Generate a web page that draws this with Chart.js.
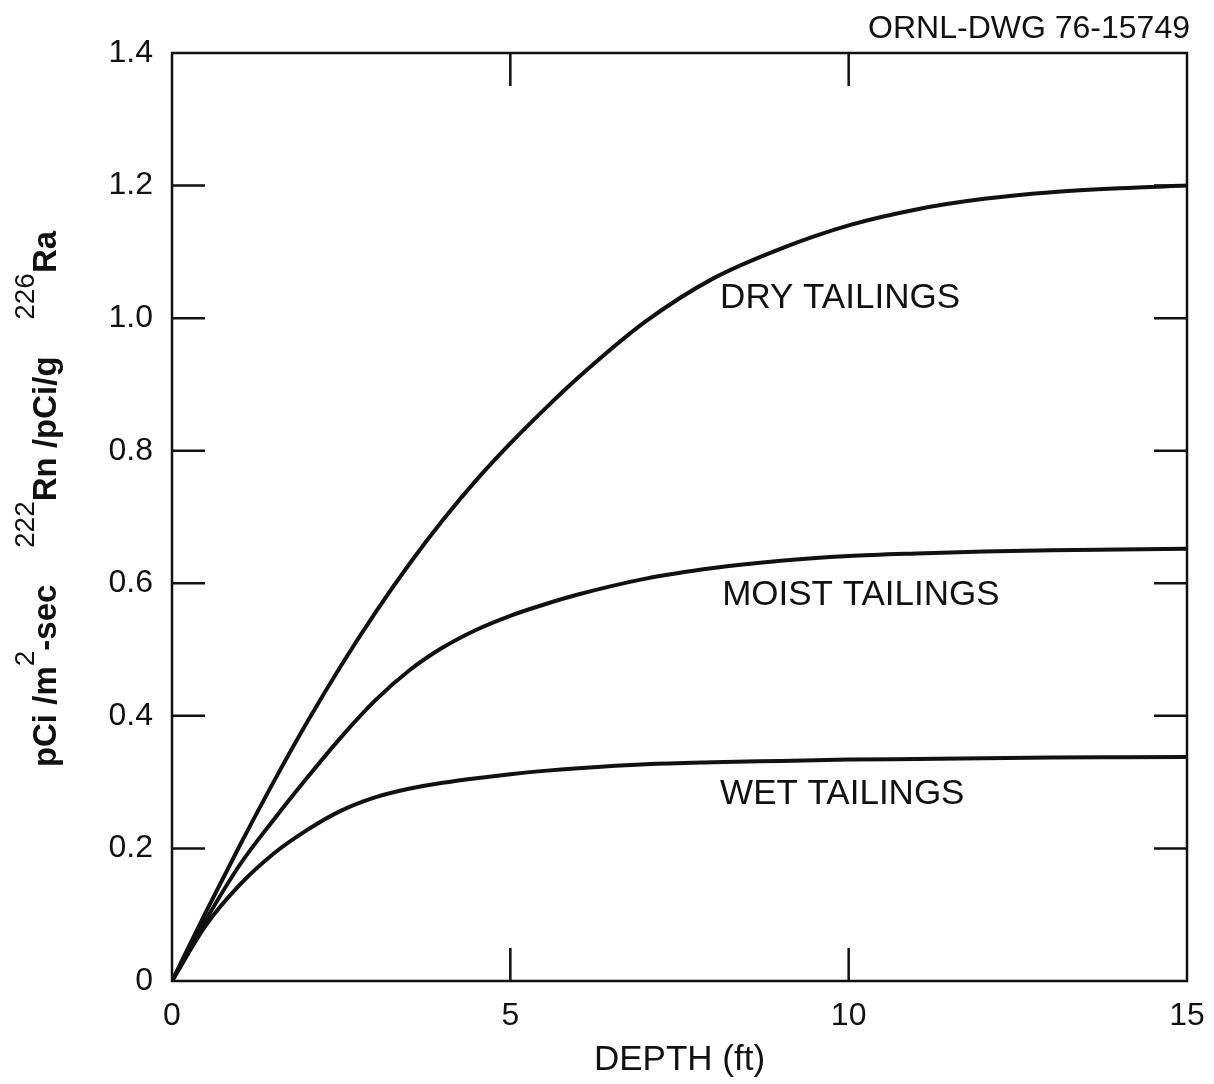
<!DOCTYPE html>
<html>
<head>
<meta charset="utf-8">
<script src="https://cdn.jsdelivr.net/npm/chart.js@4"></script>
<style>
  html, body { margin: 0; padding: 0; background: #fff; }
  #wrap { width: 1214px; height: 1084px; }
</style>
</head>
<body>
<div id="wrap"><canvas id="radonChart" width="1214" height="1084"></canvas></div>
<script>
// Depth below surface (ft)
const depth = [0, 0.5, 1, 1.5, 2, 2.5, 3, 3.5, 4, 4.5, 5, 5.5, 6, 7, 8, 9, 10, 11, 12, 13, 14, 15];
// Radon flux per unit radium
const dryTailings   = [0, 0.104, 0.204, 0.300, 0.391, 0.476, 0.555, 0.628, 0.695, 0.756, 0.811, 0.862, 0.910, 0.995, 1.060, 1.105, 1.140, 1.164, 1.180, 1.190, 1.196, 1.200];
const moistTailings = [0, 0.092, 0.175, 0.243, 0.307, 0.368, 0.423, 0.468, 0.503, 0.530, 0.551, 0.568, 0.583, 0.607, 0.623, 0.634, 0.641, 0.645, 0.648, 0.650, 0.651, 0.652];
const wetTailings   = [0, 0.084, 0.145, 0.192, 0.228, 0.257, 0.277, 0.290, 0.299, 0.306, 0.312, 0.317, 0.321, 0.327, 0.330, 0.332, 0.334, 0.335, 0.336, 0.337, 0.3375, 0.338];

const seriesNames = ['DRY TAILINGS', 'MOIST TAILINGS', 'WET TAILINGS'];
const xTickValues = [0, 5, 10, 15];
const yTickValues = [0, 0.2, 0.4, 0.6, 0.8, 1.0, 1.2, 1.4];

// where the curve names sit, in data units
const nameAnchorX = [8.1, 8.13, 8.1];
const nameAnchorY = [1.03, 0.582, 0.281];

const INK = '#111';
const LABEL_FONT = '"Liberation Sans", Arial, sans-serif';

function toPoints(ys) {
  return depth.map((d, i) => ({ x: d, y: ys[i] }));
}

// box, inward tick marks, titles and curve names
const frameAndText = {
  id: 'frameAndText',
  afterDraw(chart) {
    const ctx = chart.ctx;
    const a = chart.chartArea;
    const xs = chart.scales.x, ys = chart.scales.y;
    const tick = 33;
    ctx.save();
    ctx.strokeStyle = INK;
    ctx.lineWidth = 2.5;
    ctx.strokeRect(a.left, a.top, a.right - a.left, a.bottom - a.top);

    ctx.beginPath();
    yTickValues.slice(1, -1).forEach(v => {
      const py = ys.getPixelForValue(v);
      ctx.moveTo(a.left, py); ctx.lineTo(a.left + tick, py);
      ctx.moveTo(a.right, py); ctx.lineTo(a.right - tick, py);
    });
    xTickValues.slice(1, -1).forEach(v => {
      const px = xs.getPixelForValue(v);
      ctx.moveTo(px, a.bottom); ctx.lineTo(px, a.bottom - tick);
      ctx.moveTo(px, a.top); ctx.lineTo(px, a.top + tick);
    });
    ctx.stroke();

    // curve names
    ctx.fillStyle = INK;
    ctx.font = '35px ' + LABEL_FONT;
    ctx.textAlign = 'left';
    ctx.textBaseline = 'middle';
    seriesNames.forEach((name, i) => {
      ctx.fillText(name, xs.getPixelForValue(nameAnchorX[i]), ys.getPixelForValue(nameAnchorY[i]));
    });

    // drawing number, top right
    ctx.font = '32px ' + LABEL_FONT;
    ctx.textAlign = 'right';
    ctx.textBaseline = 'alphabetic';
    ctx.fillText('ORNL-DWG 76-15749', 1190, 38);

    // y-axis title with superscripts, rotated
    const parts = [
      ['pCi /m', false], ['2', true], ['-sec    ', false],
      ['222', true], ['Rn /pCi/g    ', false],
      ['226', true], ['Ra', false]
    ];
    const mainFont = 'bold 33px ' + LABEL_FONT;
    const supFont = '28px ' + LABEL_FONT;
    let total = 0;
    parts.forEach(p => { ctx.font = p[1] ? supFont : mainFont; total += ctx.measureText(p[0]).width; });
    ctx.translate(56, 499);
    ctx.rotate(-Math.PI / 2);
    ctx.textAlign = 'left';
    let cx = -total / 2;
    parts.forEach(p => {
      ctx.font = p[1] ? supFont : mainFont;
      ctx.fillText(p[0], cx, p[1] ? -22 : 0);
      cx += ctx.measureText(p[0]).width;
    });
    ctx.restore();
  }
};

const lineStyle = {
  borderColor: INK,
  borderWidth: 4,
  pointRadius: 0,
  fill: false,
  cubicInterpolationMode: 'monotone'
};

const config = {
  type: 'scatter',
  data: {
    datasets: [
      Object.assign({ label: seriesNames[0], data: toPoints(dryTailings), showLine: true }, lineStyle),
      Object.assign({ label: seriesNames[1], data: toPoints(moistTailings), showLine: true }, lineStyle),
      Object.assign({ label: seriesNames[2], data: toPoints(wetTailings), showLine: true }, lineStyle)
    ]
  },
  options: {
    responsive: false,
    animation: false,
    layout: { padding: { left: 0, right: 27, top: 53, bottom: 0 } },
    plugins: {
      legend: { display: false },
      tooltip: { enabled: false }
    },
    scales: {
      x: {
        type: 'linear',
        min: 0,
        max: 15,
        afterFit(scale) {
          scale.height = 103;
          scale.paddingLeft = 0;
          scale.paddingRight = 0;
        },
        afterBuildTicks(scale) { scale.ticks = xTickValues.map(v => ({ value: v })); },
        grid: { display: false, drawTicks: false },
        border: { display: false },
        ticks: {
          color: INK,
          padding: 16,
          font: { family: LABEL_FONT, size: 32 },
          callback: v => String(v)
        },
        title: {
          display: true,
          text: 'DEPTH (ft)',
          color: INK,
          font: { family: LABEL_FONT, size: 35 },
          padding: { top: 0, bottom: 3 }
        }
      },
      y: {
        type: 'linear',
        min: 0,
        max: 1.4,
        afterFit(scale) {
          scale.width = 172;
          scale.paddingTop = 0;
          scale.paddingBottom = 0;
        },
        afterBuildTicks(scale) { scale.ticks = yTickValues.map(v => ({ value: v })); },
        grid: { display: false, drawTicks: false },
        border: { display: false },
        ticks: {
          color: INK,
          padding: 19,
          font: { family: LABEL_FONT, size: 32 },
          callback: v => (v === 0 ? '0' : v.toFixed(1))
        }
      }
    }
  },
  plugins: [frameAndText]
};

window.onload = function() {
  const ctx = document.getElementById('radonChart').getContext('2d');
  new Chart(ctx, config);
};
</script>
</body>
</html>
